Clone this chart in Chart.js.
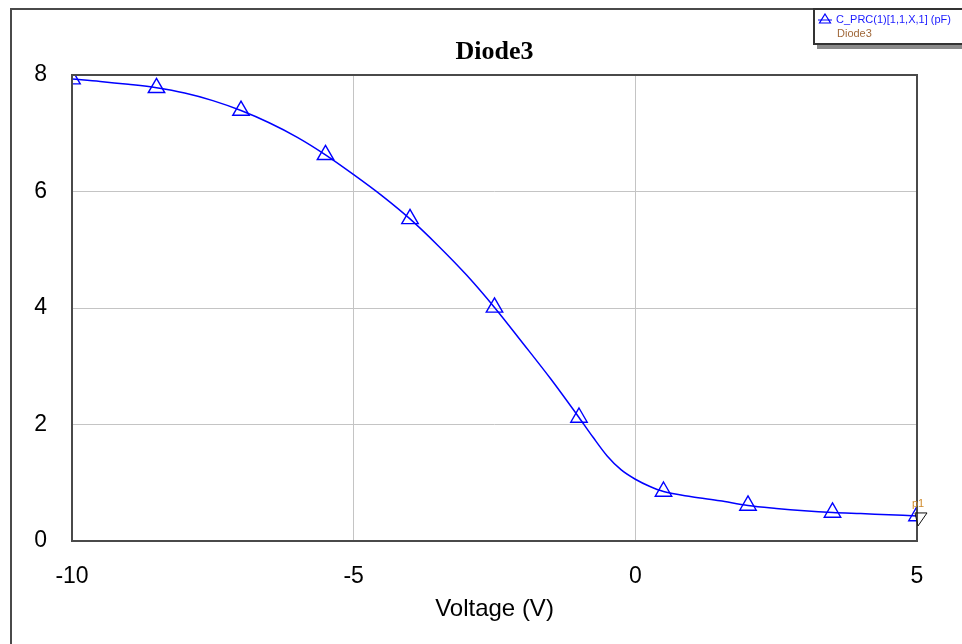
<!DOCTYPE html>
<html>
<head>
<meta charset="utf-8">
<script src="https://cdn.jsdelivr.net/npm/chart.js@4/dist/chart.umd.min.js"></script>
<style>
  html, body { margin: 0; padding: 0; background: #ffffff; }
  #wrap { position: relative; width: 962px; height: 644px; overflow: hidden; }
  #c { position: absolute; left: 0; top: 0; }
  #legend {
    position: absolute; left: 813px; top: 8px; width: 170px; height: 33px;
    border: 2px solid #333; background: #fff; box-shadow: 4px 4px 0 #8a8a8a;
    font-family: "Liberation Sans", Arial, sans-serif; font-size: 11px; line-height: 12px;
  }
  #legend .row1 { position: absolute; left: 3px; top: 3px; color: #1a1aff; white-space: nowrap; }
  #legend .row2 { position: absolute; left: 22px; top: 17px; color: #a0683a; white-space: nowrap; }
  #legend svg { vertical-align: -2px; margin-right: 4px; }
</style>
</head>
<body>
<div id="wrap">
  <canvas id="c" width="962" height="644"></canvas>
  <div id="legend">
    <div class="row1"><svg width="14" height="12"><polygon points="7,1 12.5,10 1.5,10" fill="none" stroke="#0000ff" stroke-width="1.2"/><line x1="0" y1="7" x2="14" y2="7" stroke="#0000ff" stroke-width="1"/></svg>C_PRC(1)[1,1,X,1] (pF)</div>
    <div class="row2">Diode3</div>
  </div>
</div>
<script>
// ---- data ----
const chartTitle = "Diode3";
const xAxisTitle = "Voltage (V)";
const curveVoltage = [-10, -9.5, -9, -8.5, -8, -7.5, -7, -6.5, -6, -5.5, -5, -4.5, -4, -3.5, -3, -2.5, -2, -1.5, -1, -0.75, -0.5, -0.25, 0, 0.25, 0.5, 1, 1.5, 2, 2.5, 3, 3.5, 4, 4.5, 5];
const curveCap     = [7.93, 7.89, 7.84, 7.78, 7.69, 7.56, 7.39, 7.18, 6.93, 6.63, 6.29, 5.93, 5.53, 5.07, 4.57, 4.01, 3.40, 2.78, 2.12, 1.78, 1.46, 1.22, 1.06, 0.94, 0.85, 0.76, 0.69, 0.61, 0.56, 0.52, 0.49, 0.47, 0.45, 0.43];
const markerVoltage = [-10, -8.5, -7, -5.5, -4, -2.5, -1, 0.5, 2, 3.5, 5];
const markerCap     = [7.93, 7.78, 7.39, 6.63, 5.53, 4.01, 2.12, 0.85, 0.61, 0.49, 0.43];
const xTicks = [-10, -5, 0, 5];
const yTicks = [0, 2, 4, 6, 8];
const markerLabel = "p1";

const FONT = '"Liberation Sans", Arial, sans-serif';

const framePlugin = {
  id: 'frame',
  beforeDraw(chart) {
    const ctx = chart.ctx;
    ctx.save();
    ctx.fillStyle = '#ffffff';
    ctx.fillRect(0, 0, chart.width, chart.height);
    ctx.strokeStyle = '#4a4a4a';
    ctx.lineWidth = 2;
    ctx.beginPath();
    ctx.moveTo(11, chart.height);
    ctx.lineTo(11, 9);
    ctx.lineTo(chart.width, 9);
    ctx.stroke();
    ctx.restore();
  },
  afterDraw(chart) {
    const ctx = chart.ctx;
    const a = chart.chartArea;
    ctx.save();
    ctx.strokeStyle = '#4a4a4a';
    ctx.lineWidth = 2;
    ctx.strokeRect(a.left, a.top, a.right - a.left, a.bottom - a.top);
    // end-point marker label
    const xs = chart.scales.x, ys = chart.scales.y;
    const n = markerVoltage.length - 1;
    const px = xs.getPixelForValue(markerVoltage[n]);
    const py = ys.getPixelForValue(markerCap[n]);
    ctx.fillStyle = '#d08a2a';
    ctx.font = '11px ' + FONT;
    ctx.textAlign = 'left';
    ctx.textBaseline = 'alphabetic';
    ctx.fillText(markerLabel, px - 5, py - 9);
    ctx.strokeStyle = '#111';
    ctx.lineWidth = 1;
    ctx.beginPath();
    ctx.moveTo(px - 2, py - 3);
    ctx.lineTo(px + 10, py - 3);
    ctx.lineTo(px + 1, py + 10);
    ctx.closePath();
    ctx.stroke();
    ctx.restore();
  }
};

new Chart(document.getElementById('c'), {
  type: 'line',
  data: {
    datasets: [
      {
        data: curveVoltage.map((v, i) => ({ x: v, y: curveCap[i] })),
        borderColor: '#0000ff',
        borderWidth: 1.5,
        pointRadius: 0,
        cubicInterpolationMode: 'monotone',
        fill: false,
        clip: 0
      },
      {
        data: markerVoltage.map((v, i) => ({ x: v, y: markerCap[i] })),
        showLine: false,
        pointStyle: 'triangle',
        pointRadius: 9.5,
        pointBorderColor: '#0000ff',
        pointBackgroundColor: 'rgba(0,0,0,0)',
        pointBorderWidth: 1.4,
        clip: 0
      }
    ]
  },
  options: {
    responsive: false,
    animation: false,
    events: [],
    layout: { padding: { left: 0, right: 45, top: 0, bottom: 0 } },
    plugins: {
      legend: { display: false },
      tooltip: { enabled: false },
      title: {
        display: true,
        text: chartTitle,
        fullSize: false,
        color: '#000',
        font: { family: '"Liberation Serif", "Times New Roman", serif', size: 26, weight: 'bold', lineHeight: 1.2 },
        padding: { top: 37, bottom: 6.8 }
      }
    },
    scales: {
      x: {
        type: 'linear',
        min: -10, max: 5,
        afterBuildTicks: (s) => { s.ticks = xTicks.map(v => ({ value: v })); },
        afterFit: (s) => { s.height = 103; },
        ticks: { color: '#000', font: { family: FONT, size: 23 }, padding: 22 },
        grid: { color: '#c4c4c4', lineWidth: 1, drawTicks: false },
        border: { display: false },
        title: { display: true, text: xAxisTitle, color: '#000', font: { family: FONT, size: 24 }, padding: { top: 0, bottom: 20 } }
      },
      y: {
        type: 'linear',
        min: 0, max: 8,
        afterBuildTicks: (s) => { s.ticks = yTicks.map(v => ({ value: v })); },
        afterFit: (s) => { s.width = 72; },
        ticks: { color: '#000', font: { family: FONT, size: 23 }, padding: 25 },
        grid: { color: '#c4c4c4', lineWidth: 1, drawTicks: false },
        border: { display: false }
      }
    }
  },
  plugins: [framePlugin]
});
</script>
</body>
</html>
